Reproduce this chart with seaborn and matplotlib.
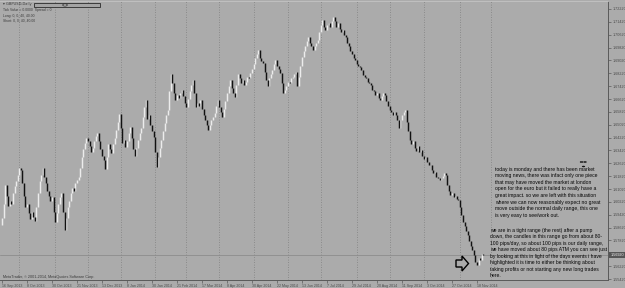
import matplotlib
matplotlib.use("Agg")
import numpy as np
import pandas as pd
import matplotlib.pyplot as plt
import seaborn as sns
from matplotlib.patches import Polygon, Rectangle, Circle

# ---------------- data (daily closes) ----------------
closes = [
    1.5920, 1.6010, 1.6130, 1.6060, 1.5995, 1.6030, 1.6010, 1.6075, 1.6120, 1.6150,
    1.6190, 1.6235, 1.6220, 1.6140, 1.6060, 1.5990, 1.6010, 1.5950, 1.5915, 1.5960,
    1.5930, 1.5905, 1.5990, 1.6080, 1.6150, 1.6190, 1.6235, 1.6180, 1.6140, 1.6090,
    1.6060, 1.6030, 1.6055, 1.5960, 1.5900, 1.5950, 1.6010, 1.6050, 1.6075, 1.5960,
    1.5850, 1.5920, 1.5990, 1.6030, 1.6080, 1.6110, 1.6090, 1.6140, 1.6160, 1.6175,
    1.6230, 1.6300, 1.6350, 1.6390, 1.6420, 1.6400, 1.6370, 1.6330, 1.6360, 1.6400,
    1.6430, 1.6450, 1.6400, 1.6350, 1.6310, 1.6280, 1.6225, 1.6300, 1.6385, 1.6350,
    1.6325, 1.6380, 1.6420, 1.6470, 1.6520, 1.6570, 1.6480, 1.6390, 1.6410, 1.6365,
    1.6400, 1.6450, 1.6485, 1.6420, 1.6350, 1.6305, 1.6360, 1.6410, 1.6450, 1.6480,
    1.6550, 1.6610, 1.6655, 1.6535, 1.6560, 1.6500, 1.6460, 1.6425, 1.6330, 1.6240,
    1.6300, 1.6360, 1.6405, 1.6460, 1.6510, 1.6560, 1.6595, 1.6710, 1.6820, 1.6760,
    1.6700, 1.6655, 1.6690, 1.6670, 1.6700, 1.6720, 1.6680, 1.6640, 1.6610, 1.6660,
    1.6710, 1.6750, 1.6780, 1.6700, 1.6615, 1.6640, 1.6620, 1.6655, 1.6600, 1.6560,
    1.6530, 1.6500, 1.6470, 1.6500, 1.6530, 1.6550, 1.6575, 1.6620, 1.6655, 1.6610,
    1.6580, 1.6550, 1.6600, 1.6650, 1.6700, 1.6740, 1.6780, 1.6730, 1.6700, 1.6675,
    1.6750, 1.6820, 1.6790, 1.6760, 1.6780, 1.6750, 1.6770, 1.6800, 1.6790, 1.6825,
    1.6850, 1.6880, 1.6920, 1.6940, 1.6965, 1.6920, 1.6900, 1.6885, 1.6830, 1.6780,
    1.6740, 1.6790, 1.6820, 1.6845, 1.6880, 1.6905, 1.6870, 1.6850, 1.6825, 1.6760,
    1.6700, 1.6720, 1.6740, 1.6770, 1.6760, 1.6790, 1.6800, 1.6815, 1.6830, 1.6740,
    1.6800, 1.6870, 1.6925, 1.6960, 1.6990, 1.7020, 1.7050, 1.7010, 1.6990, 1.6965,
    1.6990, 1.7010, 1.7030, 1.7080, 1.7120, 1.7155, 1.7110, 1.7090, 1.7120, 1.7135,
    1.7110, 1.7150, 1.7175, 1.7150, 1.7110, 1.7135, 1.7100, 1.7080, 1.7090, 1.7060,
    1.7048, 1.7010, 1.6990, 1.6960, 1.6945, 1.6920, 1.6905, 1.6880, 1.6870, 1.6860,
    1.6840, 1.6810, 1.6800, 1.6790, 1.6770, 1.6760, 1.6750, 1.6720, 1.6710, 1.6690,
    1.6700, 1.6670, 1.6655, 1.6680, 1.6700, 1.6690, 1.6650, 1.6620, 1.6595, 1.6580,
    1.6560, 1.6580, 1.6560, 1.6530, 1.6480, 1.6530, 1.6560, 1.6580, 1.6595, 1.6520,
    1.6460, 1.6410, 1.6380, 1.6400, 1.6360, 1.6340, 1.6370, 1.6330, 1.6345, 1.6310,
    1.6290, 1.6300, 1.6270, 1.6250, 1.6252, 1.6220, 1.6200, 1.6210, 1.6180, 1.6170,
    1.6158, 1.6170, 1.6185, 1.6200, 1.6190, 1.6130, 1.6090, 1.6065, 1.6080, 1.6050,
    1.6060, 1.6040, 1.6034, 1.5990, 1.5941, 1.5900, 1.5870, 1.5840, 1.5816, 1.5780,
    1.5750, 1.5723, 1.5690, 1.5650, 1.5630, 1.5670, 1.5661, 1.5700, 1.5692,
]
first_open = 1.5880
bid_price = 1.5692
start_date = "2013-09-16"
holidays = ["2013-12-25", "2014-01-01"]

date_labels = ["16 Sep 2013", "8 Oct 2013", "30 Oct 2013", "21 Nov 2013", "13 Dec 2013",
               "8 Jan 2014", "30 Jan 2014", "21 Feb 2014", "17 Mar 2014", "8 Apr 2014",
               "30 Apr 2014", "22 May 2014", "13 Jun 2014", "7 Jul 2014", "29 Jul 2014",
               "20 Aug 2014", "11 Sep 2014", "3 Oct 2014", "27 Oct 2014", "18 Nov 2014"]
label_step = 16

price_labels = [1.72220, 1.71420, 1.70620, 1.69820, 1.69020, 1.68220, 1.67420, 1.66620,
                1.65820, 1.65020, 1.64220, 1.63420, 1.62620, 1.61820, 1.61020, 1.60220,
                1.59420, 1.58620, 1.57820, 1.57020, 1.56220, 1.55420]

header_lines = ["Tick Value = 0.0000  Spread = 0", "Long: 0, 0, 40, 40.00", "Short: 0, 0, 40, 40.00"]
symbol_text = "\u25be GBPUSD,Daily"
copyright_text = "MetaTrader, \u00a9 2001-2014, MetaQuotes Software Corp."

note1 = ["today is monday and there has been market",
         "moving news, there was infact only one piece",
         "that may have moved the market at london",
         "open for the euro but it failed to really have a",
         "great impact. so we are left with this situation",
         "where we can now reasonably expect no great",
         "move outside the normal daily range, this one",
         "is very easy to see/work out."]
note2 = ["we are in a tight range (the rest) after a pump",
         "down, the candles in this range go from about 80-",
         "100 pips/day, so about 100 pips is our daily range,",
         "we have moved about 80 pips ATM you can see just",
         "by looking at this in light of the days events i have",
         "highlighted it is time to either be thinking about",
         "taking profits or not starting any new long trades",
         "here."]

# ---------------- styling ----------------
W, H = 625, 288
BG = "#ababab"
BULL = "#ececec"
BEAR = "#121212"
AXC = "#5a5a5a"

sns.set_theme(style="white")
plt.rcParams["font.family"] = ["Liberation Sans", "DejaVu Sans"]

opens = [first_open] + closes[:-1]
df = pd.DataFrame({"open": opens, "close": closes})
df["i"] = np.arange(len(df))
df["bull"] = df["close"] >= df["open"]

def fx(x):
    return x / W

def fy(y):
    return 1 - y / H

fig = plt.figure(figsize=(W / 100, H / 100), dpi=100, facecolor=BG)
ax = fig.add_axes([0, fy(280), fx(608), (280 - 1) / H])
ax.set_facecolor(BG)

px_per_bar = 1.5625
ax.set_xlim(-2 / px_per_bar, (608 - 2) / px_per_bar)
ax.set_ylim(1.7222 - 271 / 1607.5, 1.7222 + 8 / 1607.5)

# month-start grid (extends one month beyond last bar)
dates = pd.bdate_range(start_date, periods=len(closes) + 20, freq="C", holidays=holidays)
for k in range(1, len(dates)):
    if dates[k].month != dates[k - 1].month:
        ax.axvline(k, color="#808080", lw=0.6, ls=(0, (1, 2)), zorder=1)

# bid line
ax.axhline(bid_price, color="#8c8c8c", lw=0.6, zorder=1)

bull = df[df["bull"]]
bear = df[~df["bull"]]
ax.vlines(bull["i"], bull["open"], bull["close"], color=BULL, lw=1.05, zorder=3)
ax.vlines(bear["i"], bear["open"], bear["close"], color=BEAR, lw=1.05, zorder=3)

# axes styling
ax.spines["left"].set_visible(False)
ax.spines["top"].set_color("#c4c4c4")
ax.spines["top"].set_linewidth(0.6)
for s in ["right", "bottom"]:
    ax.spines[s].set_color(AXC)
    ax.spines[s].set_linewidth(0.7)

ax.yaxis.tick_right()
ax.set_yticks(price_labels)
ax.set_yticklabels([f"{v:.5f}" for v in price_labels])
ax.tick_params(axis="y", length=2, width=0.5, pad=1.2, labelsize=2.7,
               colors=AXC, labelcolor="#4a4a4a", right=True, left=False)
# the label hidden under the current-price box
for v, lab in zip(price_labels, ax.get_yticklabels()):
    if abs(v - bid_price) < 0.002:
        lab.set_visible(False)
ax.set_xticks([label_step * k for k in range(len(date_labels))])
ax.set_xticklabels(date_labels, ha="left")
ax.tick_params(axis="x", length=2, width=0.5, pad=0.8, labelsize=2.6,
               colors=AXC, labelcolor="#4a4a4a", bottom=True)
ax.grid(False)

# price box
ax.text(1.004, bid_price, f"{bid_price:.5f}", transform=ax.get_yaxis_transform(),
        fontsize=2.7, color="#f0f0f0", va="center", ha="left", clip_on=False,
        bbox=dict(fc="#555555", ec="none", pad=0.8), zorder=10)

# header
fig.text(fx(3), fy(4.5), symbol_text, fontsize=2.6, color="#3a3a3a", va="center",
         family=["DejaVu Sans"])
fig.patches.append(Rectangle((fx(34), fy(7)), fx(66), 4 / H, transform=fig.transFigure,
                             fc="#a4a4a4", ec="#2a2a2a", lw=0.6))
fig.patches.append(Circle((fx(65), fy(5)), 2.3 / W, transform=fig.transFigure,
                          fc="#c8c8c8", ec="#2a2a2a", lw=0.5))
for n, line in enumerate(header_lines):
    fig.text(fx(3), fy(10.5 + 5 * n), line, fontsize=2.4, color="#3a3a3a", va="center")
fig.text(fx(3), fy(277), copyright_text, fontsize=2.7, color="#3a3a3a", va="center")

# notes
fig.text(fx(495), fy(166.8), "\n".join(note1), fontsize=3.6, color="#050505",
         va="top", ha="left", linespacing=1.39)
fig.text(fx(490), fy(227.8), "\n".join(note2), fontsize=3.6, color="#050505",
         va="top", ha="left", linespacing=1.37)

# small icon above the note
fig.patches.append(Circle((fx(581.5), fy(162)), 1.3 / W, transform=fig.transFigure,
                          fc="none", ec="#111111", lw=0.5))
fig.patches.append(Circle((fx(585), fy(162)), 1.3 / W, transform=fig.transFigure,
                          fc="none", ec="#111111", lw=0.5))
fig.patches.append(Circle((fx(583.5), fy(166.5)), 1.6 / W, transform=fig.transFigure,
                          fc="#111111", ec="none"))

# hollow arrow
arrow_pts = [(456, 260), (462, 260), (462, 256), (468.5, 263.5), (462, 271), (462, 267), (456, 267)]
fig.patches.append(Polygon([(fx(x), fy(y)) for x, y in arrow_pts], closed=True,
                           transform=fig.transFigure, fc=BG, ec="#000000", lw=1.0))

fig.savefig("out.png", dpi=100, facecolor=BG)
